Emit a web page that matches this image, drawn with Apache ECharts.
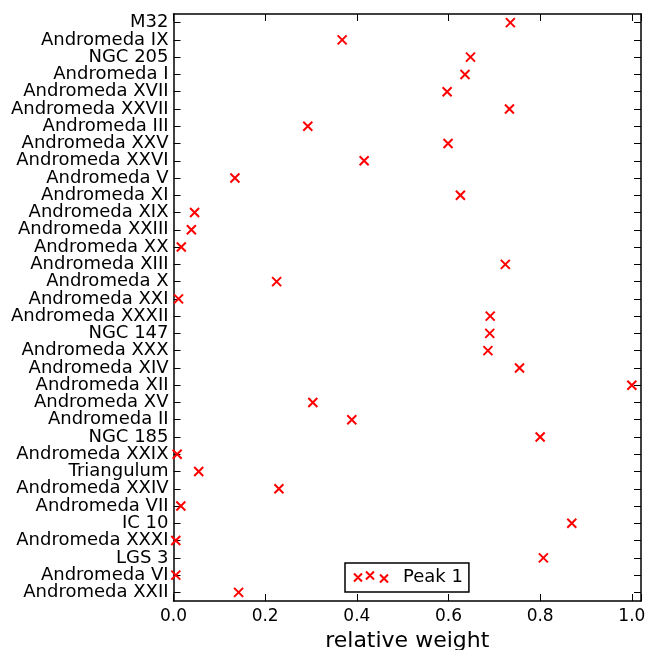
<!DOCTYPE html>
<html>
<head>
<meta charset="utf-8">
<script src="https://cdn.jsdelivr.net/npm/echarts@6/dist/echarts.min.js"></script>
<style>html,body{margin:0;padding:0;background:#fff}#c{width:649px;height:650px}</style>
</head>
<body>
<div id="c"></div>
<script>
const categories = ["M32","Andromeda IX","NGC 205","Andromeda I","Andromeda XVII","Andromeda XXVII","Andromeda III","Andromeda XXV","Andromeda XXVI","Andromeda V","Andromeda XI","Andromeda XIX","Andromeda XXIII","Andromeda XX","Andromeda XIII","Andromeda X","Andromeda XXI","Andromeda XXXII","NGC 147","Andromeda XXX","Andromeda XIV","Andromeda XII","Andromeda XV","Andromeda II","NGC 185","Andromeda XXIX","Triangulum","Andromeda XXIV","Andromeda VII","IC 10","Andromeda XXXI","LGS 3","Andromeda VI","Andromeda XXII"];
const peak1 = [0.735,0.368,0.648,0.636,0.597,0.733,0.293,0.599,0.416,0.134,0.626,0.046,0.039,0.017,0.724,0.225,0.011,0.691,0.690,0.686,0.755,1.0,0.304,0.389,0.800,0.008,0.055,0.230,0.016,0.869,0.005,0.807,0.005,0.142];
const xTicks = [0.0,0.2,0.4,0.6,0.8,1.0];

const font = 'DejaVu Sans';
const chart = echarts.init(document.getElementById('c'));
function axLine(){ return {show:true, onZero:false, lineStyle:{color:'#000', width:1.5}}; }
function tk(extra){ return Object.assign({show:true, inside:true, length:7, lineStyle:{color:'#000', width:1}}, extra||{}); }
chart.setOption({
  animation:false,
  grid:{left:173.5, right:8, top:14, bottom:49, containLabel:false, outerBoundsMode:'none'},
  xAxis:[{
    type:'value', min:0, max:1.02, interval:0.2, position:'bottom',
    axisLine:axLine(), axisTick:tk(), splitLine:{show:false},
    axisLabel:{fontFamily:font, fontSize:17, color:'#000', margin:7,
      formatter:v => xTicks.some(t=>Math.abs(t-v)<1e-9) ? v.toFixed(1) : ''},
    name:'relative weight', nameLocation:'middle', nameGap:29,
    nameTextStyle:{fontFamily:font, fontSize:22, color:'#000'}
  },{
    type:'value', min:0, max:1.02, interval:0.2, position:'top',
    axisLine:axLine(), axisTick:tk(), axisLabel:{show:false}, splitLine:{show:false}
  }],
  yAxis:[{
    type:'category', data:categories, inverse:true, position:'left',
    axisLine:axLine(), axisTick:tk({alignWithLabel:true}),
    axisLabel:{fontFamily:font, fontSize:18, color:'#000', margin:5, interval:0},
    splitLine:{show:false}
  },{
    type:'category', data:categories, inverse:true, position:'right',
    axisLine:axLine(), axisTick:tk({alignWithLabel:true}),
    axisLabel:{show:false}, splitLine:{show:false}
  }],
  legend:{
    left:345, top:563, orient:'horizontal',
    backgroundColor:'#fff', borderColor:'#000', borderWidth:1.5, borderRadius:0,
    padding:[5,6,6,8],
    itemWidth:34, itemHeight:11,
    icon:'path://M0,2L8,10M8,2L0,10M12,0L20,8M20,0L12,8M26,3L34,11M34,3L26,11',
    itemStyle:{color:'transparent', borderColor:'#ff0000', borderWidth:2},
    textStyle:{fontFamily:font, fontSize:18, color:'#000', padding:[0,0,0,10]},
    data:['Peak 1']
  },
  series:[{
    name:'Peak 1', type:'scatter', data:peak1.map((v,i)=>[v, categories[i]]),
    symbol:'path://M0,0L10,10M10,0L0,10', symbolSize:9,
    itemStyle:{color:'transparent', borderColor:'#ff0000', borderWidth:2, opacity:1},
    z:5
  }]
});
</script>
</body>
</html>
